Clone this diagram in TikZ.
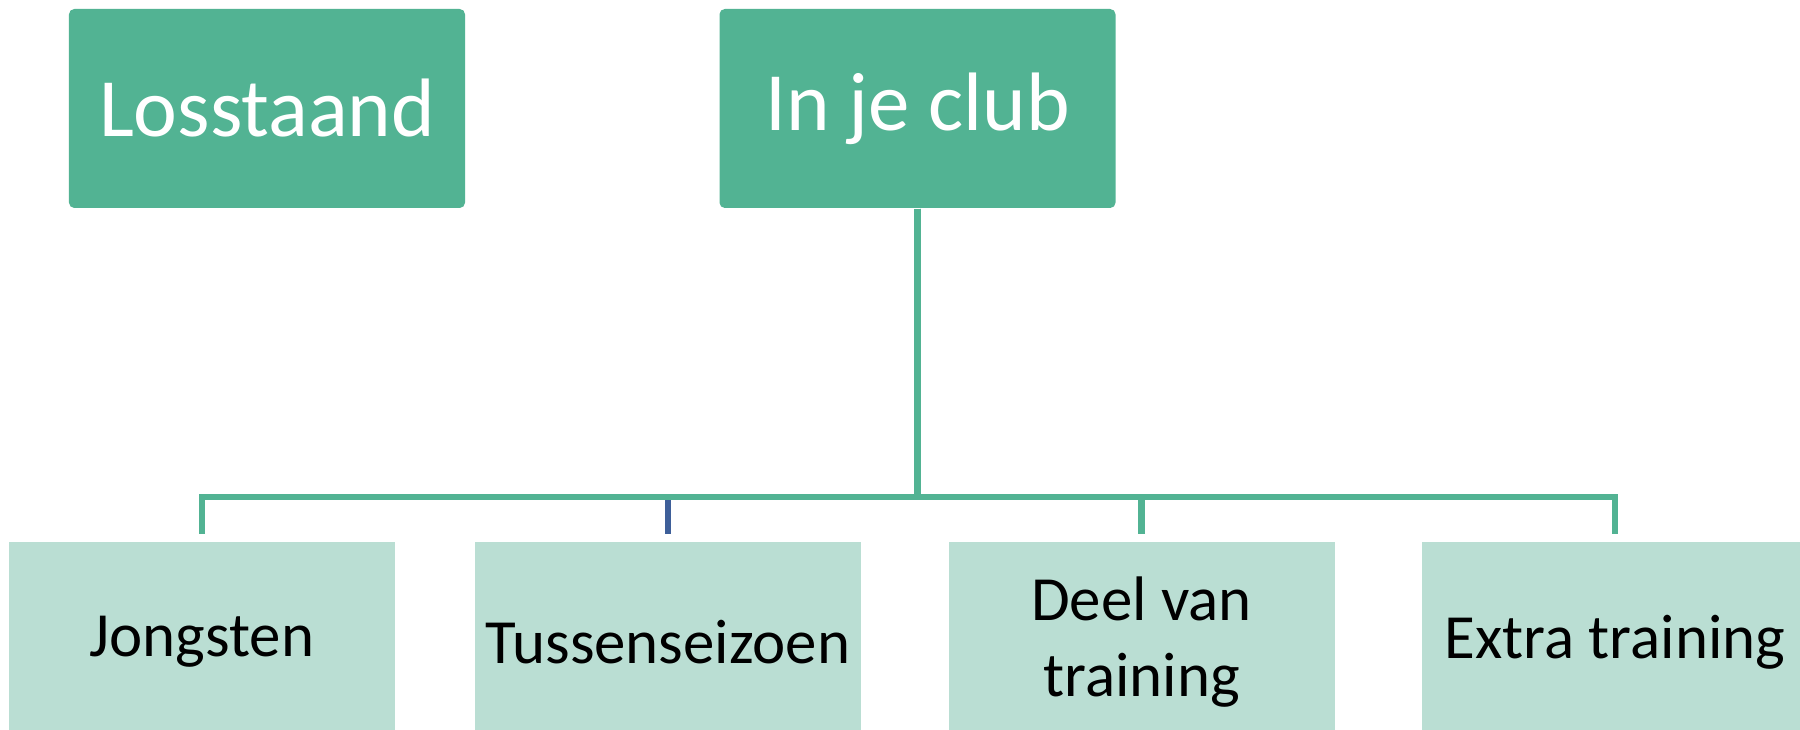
\documentclass[tikz,border=0pt]{standalone}
\usepackage{fontspec}
\setmainfont{Carlito}
\definecolor{dkgreen}{HTML}{52B393}
\definecolor{ltgreen}{HTML}{BADED3}
\definecolor{linkblue}{HTML}{3E5F99}
\tikzset{
  topbox/.style={fill=dkgreen, draw=none, rounded corners=1.5pt, minimum width=3.96cm, minimum height=1.99cm, text=white, font=\fontsize{23.6pt}{28pt}\selectfont, inner sep=0pt},
  subbox/.style={fill=ltgreen, draw=none, minimum width=3.86cm, minimum height=2.0cm, text=black, font=\fontsize{17.9pt}{21.5pt}\selectfont, align=center, inner sep=0pt},
  link/.style={draw=dkgreen, line width=1.8pt, shorten >=0.07cm},
  bluelink/.style={draw=linkblue, line width=1.8pt, shorten >=0.07cm}
}
\begin{document}
\begin{tikzpicture}
\useasboundingbox (0,0) rectangle (18,7.3);
\clip (0,0) rectangle (18,7.3);
\node[topbox] (los) at (2.67,6.215) {Losstaand};
\node[topbox] (club) at (9.175,6.215) {In je club};
\node[subbox] (jong) at (2.02,0.88) {Jongsten};
\node[subbox] (tus) at (6.68,0.88) {Tussenseizoen};
\node[subbox] (deel) at (11.415,0.88) {Deel van\\training};
\node[subbox] (extra) at (16.15,0.88) {Extra training};
\coordinate (bus) at (9.175,2.33);
\draw[bluelink] (club.south) -- (bus) -| (tus.north);
\draw[link] (club.south) -- (bus) -| (jong.north);
\draw[link] (club.south) -- (bus) -| (deel.north);
\draw[link] (club.south) -- (bus) -| (extra.north);
\draw[draw=dkgreen, line width=1.8pt] (bus) -- (tus.north |- bus);
\end{tikzpicture}
\end{document}
